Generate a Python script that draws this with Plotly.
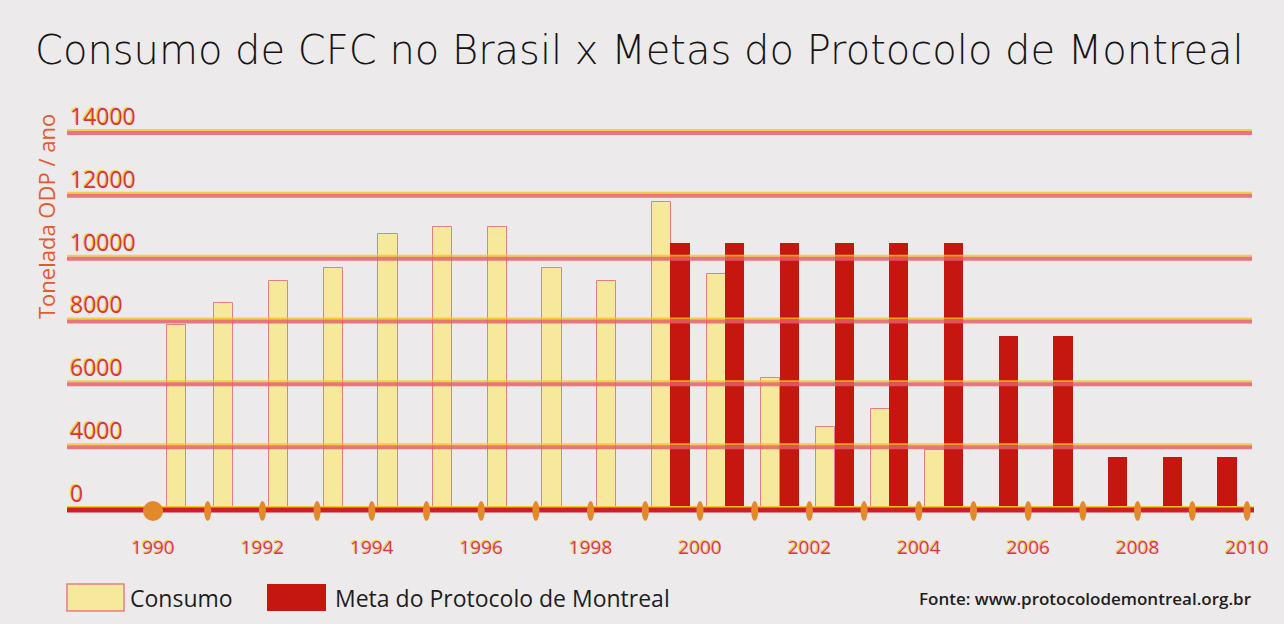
import plotly.graph_objects as go

# ---------------- data ----------------
consumo_years = [1990, 1991, 1992, 1993, 1994, 1995, 1996, 1997, 1998, 1999,
                 2000, 2001, 2002, 2003, 2004]
consumo = [7900, 8600, 9300, 9700, 10800, 11000, 11000, 9700, 9300, 11800,
           9500, 6200, 4650, 5200, 3900]

meta_years = [1999, 2000, 2001, 2002, 2003, 2004, 2005, 2006, 2007, 2008, 2009]
meta = [10500, 10500, 10500, 10500, 10500, 10500, 7540, 7540, 3690, 3690, 3690]

y_tickvals = [2000, 4000, 6000, 8000, 10000, 12000, 14000]
y_ticktext = ["0", "4000", "6000", "8000", "10000", "12000", "14000"]

x_tickvals = [1990, 1992, 1994, 1996, 1998, 2000, 2002, 2004, 2006, 2008, 2010]
x_ticktext = ["1990", "1992", "1994", "1996", "1998", "2000", "2002", "2004",
              "2006", "2008", "2010"]

marker_years = [1990, 1991, 1992, 1993, 1994, 1995, 1996, 1997, 1998, 1999, 2000,
                2001, 2002, 2003, 2004, 2005, 2006, 2007, 2008, 2009, 2010]

name_consumo = "Consumo"
name_meta = "Meta do Protocolo de Montreal"
title_text = "Consumo de CFC no Brasil x Metas do Protocolo de Montreal"
ytitle_text = "Tonelada ODP / ano"
source_text = "Fonte: www.protocolodemontreal.org.br"

# ---------------- style ----------------
W, H = 1284, 624
L, R, T, B = 67, 1252, 95, 510
BG = "#EDEAEC"
YELLOW_FILL = "#F6E99C"
YELLOW_EDGE = "#E77C8A"
DARK_RED = "#C5170F"
GRID_PINK = "#E65E68"
GRID_YEL = "#F2C824"
AXIS_RED = "#D11E26"
ORANGE = "#E3892B"

consumo_offsets = [0.26] + [0.12] * (len(consumo) - 1)


def px_x(px):
    return (px - L) / (R - L)


def px_y(py):
    return (B - py) / (B - T)


fig = go.Figure()
fig.add_trace(go.Bar(
    x=consumo_years, y=consumo, name=name_consumo,
    width=0.35, offset=consumo_offsets,
    marker=dict(color=YELLOW_FILL, line=dict(color=YELLOW_EDGE, width=1)),
    showlegend=False,
))
fig.add_trace(go.Bar(
    x=meta_years, y=meta, name=name_meta,
    width=0.35, offset=0.46,
    marker=dict(color=DARK_RED, line=dict(width=0)),
    showlegend=False,
))

shapes = []
# gridlines (above bars, semi-transparent)
for v in y_tickvals[1:]:
    shapes.append(dict(type="line", xref="paper", x0=0, x1=1, yref="y",
                       ysizemode="pixel", yanchor=v, y0=3, y1=3,
                       line=dict(color=GRID_YEL, width=2), opacity=0.8, layer="above"))
    shapes.append(dict(type="line", xref="paper", x0=0, x1=1, yref="y",
                       ysizemode="pixel", yanchor=v, y0=0, y1=0,
                       line=dict(color=GRID_PINK, width=4), opacity=0.82, layer="above"))
# baseline axis
shapes.append(dict(type="line", xref="paper", x0=0, x1=px_x(1254), yref="paper",
                   ysizemode="pixel", yanchor=0, y0=3, y1=3,
                   line=dict(color=GRID_YEL, width=2), layer="above"))
shapes.append(dict(type="line", xref="paper", x0=0, x1=px_x(1254), yref="paper",
                   ysizemode="pixel", yanchor=0, y0=0, y1=0,
                   line=dict(color=AXIS_RED, width=5), layer="above"))
# year markers on the axis
for i, yr in enumerate(marker_years):
    if i == 0:
        hw, hh = 10, 10
    else:
        hw, hh = 3.5, 10
    shapes.append(dict(type="circle", xref="x", xsizemode="pixel", xanchor=yr,
                       x0=-hw, x1=hw, yref="paper", ysizemode="pixel", yanchor=0,
                       y0=-hh - 1, y1=hh - 1,
                       fillcolor=ORANGE, line=dict(width=0), layer="above"))
# legend swatches
shapes.append(dict(type="rect", xref="paper", yref="paper",
                   x0=px_x(67), x1=px_x(124), y0=px_y(611), y1=px_y(584),
                   fillcolor=YELLOW_FILL, line=dict(color=YELLOW_EDGE, width=1.5)))
shapes.append(dict(type="rect", xref="paper", yref="paper",
                   x0=px_x(267), x1=px_x(326), y0=px_y(611), y1=px_y(584),
                   fillcolor=DARK_RED, line=dict(width=0)))

annotations = [
    dict(text=title_text, xref="paper", yref="paper", x=px_x(33), y=px_y(50),
         xanchor="left", yanchor="middle", showarrow=False,
         font=dict(family="DejaVu Sans", size=40, weight=300, color="#151515")),
    dict(text=ytitle_text, xref="paper", yref="paper", x=px_x(46), y=px_y(217),
         xanchor="center", yanchor="middle", textangle=-90, showarrow=False,
         font=dict(family="Open Sans", size=22, color="#E25A30")),
    dict(text=name_consumo, xref="paper", yref="paper", x=px_x(128), y=px_y(598),
         xanchor="left", yanchor="middle", showarrow=False,
         font=dict(family="Open Sans", size=23, color="#1E1E1E")),
    dict(text=name_meta, xref="paper", yref="paper", x=px_x(333), y=px_y(598),
         xanchor="left", yanchor="middle", showarrow=False,
         font=dict(family="Open Sans", size=23, color="#1E1E1E")),
    dict(text=source_text, xref="paper", yref="paper", x=px_x(1254), y=px_y(598),
         xanchor="right", yanchor="middle", showarrow=False,
         font=dict(family="Open Sans", size=17, weight=600, color="#1E1E1E")),
]

ymin = 2000
yscale = (B - 133) / 12000.0
ymax = 14000 + (133 - T) / yscale
xscale = 54.7
xmin = 1990 - (153 - L) / xscale
xmax = 2010 + (R - 1247) / xscale

fig.update_layout(
    width=W, height=H,
    margin=dict(l=L, r=W - R, t=T, b=H - B, pad=0),
    paper_bgcolor=BG, plot_bgcolor=BG,
    barmode="overlay",
    bargap=0,
    shapes=shapes,
    annotations=annotations,
    xaxis=dict(range=[xmin, xmax], tickmode="array", tickvals=x_tickvals,
               ticktext=x_ticktext, showgrid=False, zeroline=False, showline=False,
               ticks="", ticklabelstandoff=24,
               tickfont=dict(family="Open Sans", size=19, color="#D8336E",
                             shadow="-1px -1px 0px #F2CF2E")),
    yaxis=dict(range=[ymin, ymax], tickmode="array", tickvals=y_tickvals,
               ticktext=y_ticktext, showgrid=False, zeroline=False, showline=False,
               ticks="", ticklabelposition="inside top",
               tickfont=dict(family="Open Sans", size=23, color="#D6334A",
                             shadow="-1px -1px 0px #F2CF2E")),
)

fig.write_html(
    "out.html",
    config={"displayModeBar": False},
    post_script="document.body.style.margin='0';document.body.style.background='%s';" % BG,
)
